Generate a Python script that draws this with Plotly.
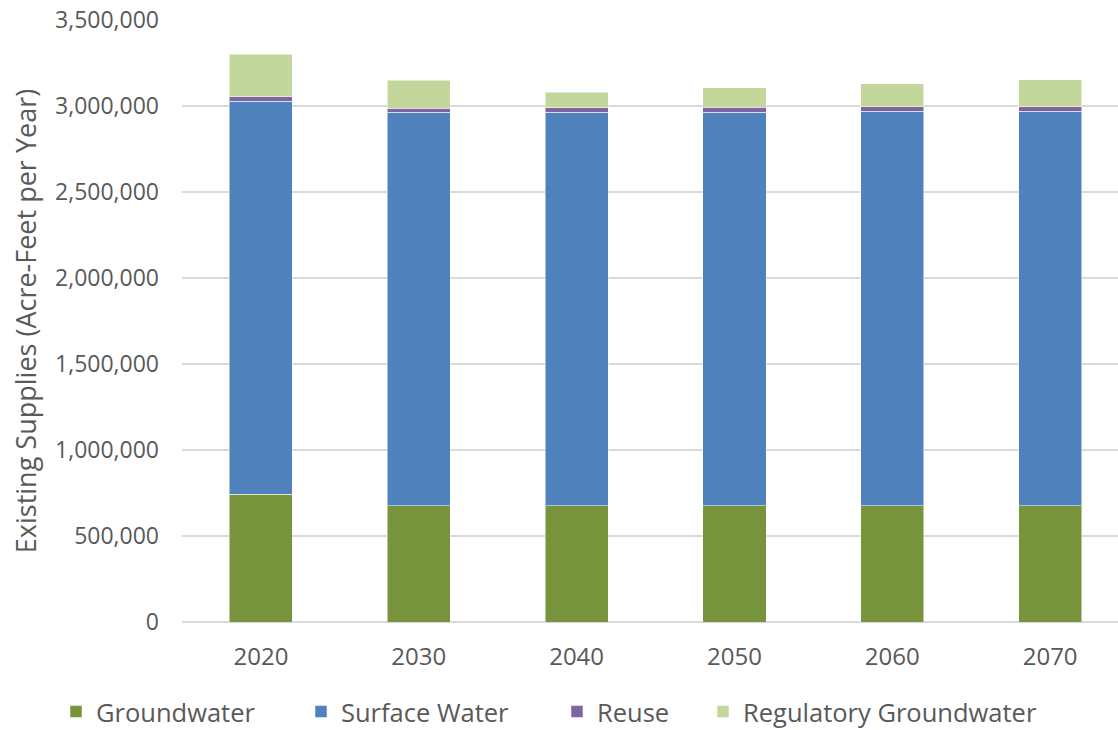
import plotly.graph_objects as go

years = ["2020", "2030", "2040", "2050", "2060", "2070"]
groundwater = [744000, 676000, 676000, 676000, 677000, 677000]
surface_water = [2283000, 2287000, 2287000, 2289000, 2292000, 2292000]
reuse = [27000, 23000, 27000, 27000, 27000, 27000]
regulatory_gw = [248000, 165000, 91000, 114000, 133000, 156000]
y_ticks = [0, 500000, 1000000, 1500000, 2000000, 2500000, 3000000, 3500000]

series = [
    ("Groundwater", groundwater, "#77933C"),
    ("Surface Water", surface_water, "#4F81BD"),
    ("Reuse", reuse, "#8064A2"),
    ("Regulatory Groundwater", regulatory_gw, "#C3D69B"),
]
legend_text_x = [98, 343, 599, 745]

font_family = "Open Sans"
txt = "#595959"

fig = go.Figure()
legend_layout = {}
for i, (name, vals, color) in enumerate(series):
    lname = f"legend{i+2}"
    fig.add_trace(go.Bar(
        x=years, y=vals, name=name, legend=lname, showlegend=True,
        marker=dict(color=color, line=dict(color="rgba(255,255,255,0.5)", width=1)),
    ))
    legend_layout[lname] = dict(
        orientation="h", xref="container", x=(legend_text_x[i] - 42) / 1118, xanchor="left",
        yref="container", y=18 / 730, yanchor="middle",
        font=dict(size=25.5, color=txt), bgcolor="rgba(0,0,0,0)",
    )

fig.update_layout(
    barmode="stack",
    bargap=0.6,
    width=1118, height=730,
    margin=dict(l=182, r=0, t=20, b=108),
    paper_bgcolor="white", plot_bgcolor="white",
    font=dict(family=font_family, size=23, color=txt),
    xaxis=dict(
        type="category", range=[-0.5, 5.43],
        showgrid=False, showline=False, ticks="",
        ticklabelstandoff=18,
        tickfont=dict(size=24, color=txt),
    ),
    yaxis=dict(
        range=[0, 3500000], tickvals=y_ticks, tickformat=",d",
        showgrid=True, gridcolor="#D9D9D9", gridwidth=2,
        zeroline=True, zerolinecolor="#D9D9D9", zerolinewidth=2,
        showline=False, ticks="", ticklabelstandoff=22,
        tickfont=dict(size=23, color=txt),
        title=dict(text="Existing Supplies (Acre-Feet per Year)", font=dict(size=27, color=txt), standoff=10),
    ),
    **legend_layout,
)

fig.write_html("out.html")
